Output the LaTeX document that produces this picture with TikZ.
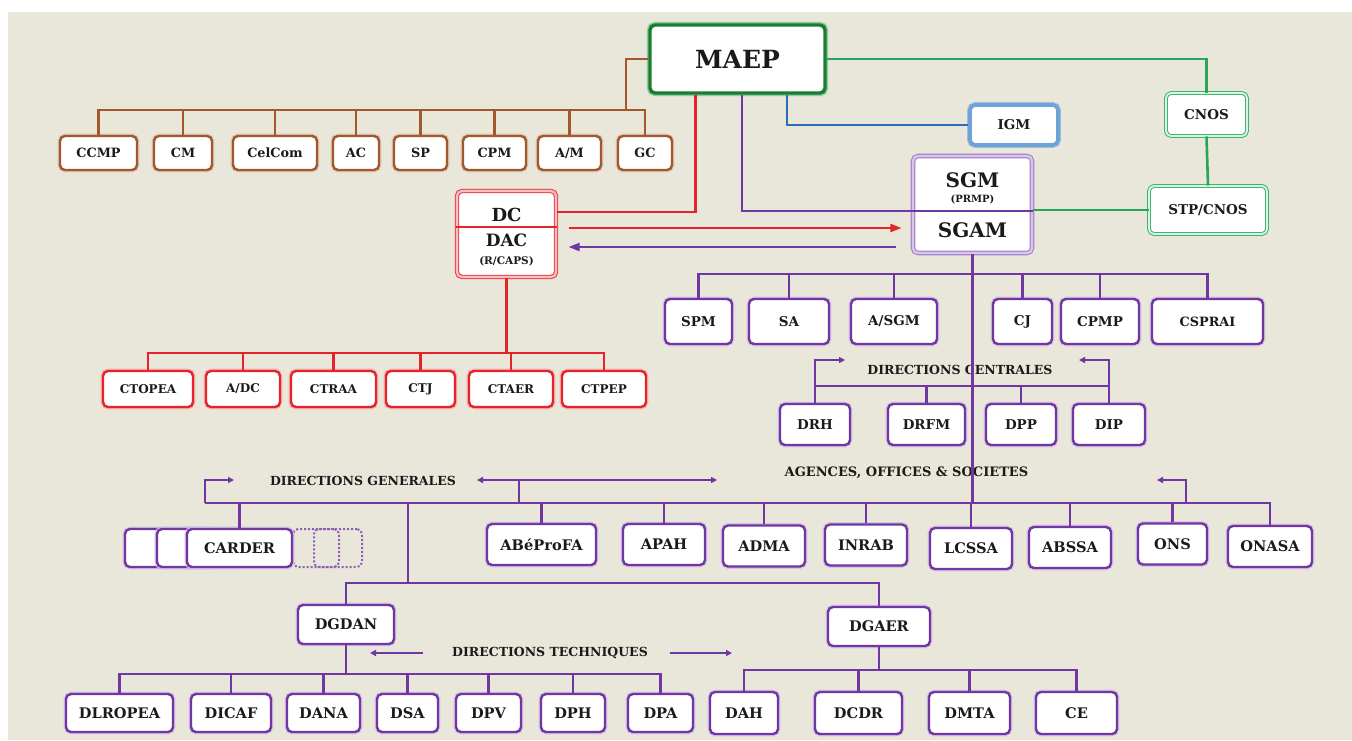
\documentclass[tikz,border=0pt]{standalone}
\usepackage{fontspec}
\setmainfont{DejaVu Serif}
\usepackage{xcolor}
\definecolor{Paper}{HTML}{E9E6DA}
\definecolor{Ink}{HTML}{1A1A1A}
\definecolor{Rust}{HTML}{A2582A}
\definecolor{Scarlet}{HTML}{E52429}
\definecolor{Leaf}{HTML}{27A65A}
\definecolor{Forest}{HTML}{1E7B2E}
\definecolor{Mint}{HTML}{3DB56C}
\definecolor{Azure}{HTML}{2B6DB8}
\definecolor{Steel}{HTML}{6EA3D8}
\definecolor{Violet}{HTML}{7036A4}
\definecolor{Lilac}{HTML}{A582CF}
\usetikzlibrary{arrows.meta}
\tikzset{
  unit/.style={fill=white,rounded corners=5pt,inner sep=0pt,text=Ink,
    font=\bfseries\fontsize{13.5}{15}\selectfont},
  big/.style={font=\bfseries\fontsize{14.6}{16}\selectfont},
  rustbox/.style={unit,draw=Rust,line width=2.4pt,preaction={draw=Rust!35,line width=4.6pt},
    font=\bfseries\fontsize{12.8}{15}\selectfont},
  redbox/.style={unit,draw=Scarlet,line width=2.4pt,preaction={draw=Scarlet!35,line width=4.6pt},
    font=\bfseries\fontsize{12}{14}\selectfont},
  violetbox/.style={unit,draw=Violet,line width=2.4pt,preaction={draw=Violet!30,line width=4.6pt}},
  ghostbox/.style={rounded corners=5pt,draw=Violet!80,line width=2pt,dotted,minimum height=38},
  maepbox/.style={unit,draw=Forest,line width=3.4pt,preaction={draw=Leaf!55,line width=6.4pt},
    font=\bfseries\fontsize{25}{28}\selectfont},
  igmbox/.style={unit,draw=Steel,line width=3.8pt,preaction={draw=Azure!45,line width=5.6pt}},
  cnosbox/.style={unit,draw=Mint,line width=1pt,double=Mint!18,double distance=1.8pt},
  sgmbox/.style={unit,draw=Lilac,line width=1.1pt,double=Lilac!45,double distance=2.4pt},
  dcbox/.style={unit,draw=Scarlet!85,line width=1.1pt,double=Scarlet!30,double distance=2.2pt},
  inner/.style={inner sep=0pt,text=Ink},
  heading/.style={inner sep=0pt,text=Ink,font=\bfseries\fontsize{12.5}{14}\selectfont},
  rustline/.style={draw=Rust,line width=2.6pt},
  redline/.style={draw=Scarlet,line width=2.6pt},
  greenline/.style={draw=Leaf,line width=2.6pt},
  blueline/.style={draw=Azure,line width=2.6pt},
  violetline/.style={draw=Violet,line width=2.6pt},
  hint/.style={draw=Violet,line width=1.5pt,-{Triangle[length=6pt,width=6pt]}},
  redarrow/.style={draw=Scarlet,line width=2.2pt,-{Triangle[length=11pt,width=8pt]}},
  violetarrow/.style={draw=Violet,line width=2.2pt,-{Triangle[length=11pt,width=8pt]}}
}
\begin{document}
\begin{tikzpicture}[x=1pt,y=-1pt,line join=miter]
  \useasboundingbox (0,0) rectangle (1352,740);
  \fill[Paper] (8,12) rectangle (1352,740);

  % cabinet
  \node[maepbox,minimum width=175,minimum height=68] (maep) at (737.5,59) {MAEP};
  \node[rustbox,minimum width=77,minimum height=34] (ccmp) at (98.5,153) {CCMP};
  \node[rustbox,minimum width=58,minimum height=34] (cm) at (183,153) {CM};
  \node[rustbox,minimum width=84,minimum height=34] (celcom) at (275,153) {CelCom};
  \node[rustbox,minimum width=46,minimum height=34] (ac) at (356,153) {AC};
  \node[rustbox,minimum width=53,minimum height=34] (sp) at (420.5,153) {SP};
  \node[rustbox,minimum width=63,minimum height=34] (cpm) at (494.5,153) {CPM};
  \node[rustbox,minimum width=63,minimum height=34] (am) at (569.5,153) {A/M};
  \node[rustbox,minimum width=54,minimum height=34] (gc) at (645,153) {GC};
  \coordinate (rustjoin) at (626,110);
  \draw[rustline] (maep.west) -| (rustjoin);
  \draw[rustline] (ccmp.north) -- (ccmp.north |- rustjoin) -- (gc.north |- rustjoin) -- (gc.north);
  \draw[rustline] (cm.north) -- (cm.north |- rustjoin) (celcom.north) -- (celcom.north |- rustjoin)
    (ac.north) -- (ac.north |- rustjoin) (sp.north) -- (sp.north |- rustjoin)
    (cpm.north) -- (cpm.north |- rustjoin) (am.north) -- (am.north |- rustjoin);

  % side bodies
  \node[igmbox,minimum width=88,minimum height=40] (igm) at (1014,125) {IGM};
  \node[cnosbox,minimum width=81,minimum height=43] (cnos) at (1206.5,114.5) {CNOS};
  \node[cnosbox,minimum width=118,minimum height=48] (stp) at (1208,210) {STP/CNOS};
  \node[sgmbox,minimum width=119,minimum height=97] (sgm) at (972.5,204.5) {};
  \node[inner,font=\bfseries\fontsize{20}{22}\selectfont] (sgmtxt) at (972.5,180) {SGM};
  \node[inner,font=\bfseries\fontsize{10}{12}\selectfont] (prmp) at (972.5,199) {(PRMP)};
  \node[inner,font=\bfseries\fontsize{20}{22}\selectfont] (sgamtxt) at (972.5,230) {SGAM};
  \node[dcbox,minimum width=99,minimum height=86] (dc) at (506.5,234) {};
  \node[inner,font=\bfseries\fontsize{18}{20}\selectfont] (dctxt) at (506.5,215) {DC};
  \node[inner,font=\bfseries\fontsize{17}{20}\selectfont] (dactxt) at (506.5,240) {DAC};
  \node[inner,font=\bfseries\fontsize{10.5}{12}\selectfont] (caps) at (506.5,261) {(R/CAPS)};
  \coordinate (sgmsplit) at (0,211);
  \coordinate (dcsplit) at (0,227);
  \draw[Scarlet,line width=2pt] (dc.west |- dcsplit) -- (dc.east |- dcsplit);

  \draw[greenline] (maep.east) -| (cnos.north);
  \draw[greenline] (cnos.south) -- (stp.north);
  \draw[greenline] (stp.west) -- (stp.west -| sgm.east);
  \draw[blueline] ([xshift=49.5pt]maep.south) |- (igm.west);
  \draw[violetline] ([xshift=4.5pt]maep.south) |- (sgm.west |- sgmsplit);
  \draw[Violet,line width=2pt] (sgm.west |- sgmsplit) -- (sgm.east |- sgmsplit);
  \draw[redline] ([xshift=-42pt]maep.south) |- ([yshift=22pt]dc.east);

  \coordinate (redtail) at ([yshift=6pt]dc.east);
  \coordinate (violettail) at ([yshift=-13pt]dc.east);
  \draw[redarrow,shorten <=12pt,shorten >=11pt] (redtail) -- (redtail -| sgm.west);
  \draw[violetarrow,shorten <=16pt,shorten >=12pt] (violettail -| sgm.west) -- (violettail);

  % conseillers techniques
  \node[redbox,minimum width=90,minimum height=36] (ctopea) at (148,389) {CTOPEA};
  \node[redbox,minimum width=74,minimum height=36] (adc) at (243,389) {A/DC};
  \node[redbox,minimum width=85,minimum height=36] (ctraa) at (333.5,389) {CTRAA};
  \node[redbox,minimum width=69,minimum height=36] (ctj) at (420.5,389) {CTJ};
  \node[redbox,minimum width=84,minimum height=36] (ctaer) at (511,389) {CTAER};
  \node[redbox,minimum width=84,minimum height=36] (ctpep) at (604,389) {CTPEP};
  \coordinate (redbus) at (0,353);
  \draw[redline] (dc.south) -- (dc.south |- redbus);
  \draw[redline] (ctopea.north) -- (ctopea.north |- redbus) -- (ctpep.north |- redbus) -- (ctpep.north);
  \draw[redline] (adc.north) -- (adc.north |- redbus) (ctraa.north) -- (ctraa.north |- redbus)
    (ctj.north) -- (ctj.north |- redbus) (ctaer.north) -- (ctaer.north |- redbus);

  % secretariat general
  \node[violetbox,minimum width=67,minimum height=45] (spm) at (698.5,321.5) {SPM};
  \node[violetbox,minimum width=80,minimum height=45] (sa) at (789,321.5) {SA};
  \node[violetbox,minimum width=86,minimum height=45] (asgm) at (894,321.5) {A/SGM};
  \node[violetbox,minimum width=59,minimum height=45] (cj) at (1022.5,321.5) {CJ};
  \node[violetbox,minimum width=78,minimum height=45] (cpmp) at (1100,321.5) {CPMP};
  \node[violetbox,minimum width=111,minimum height=45,font=\bfseries\fontsize{12.8}{15}\selectfont] (csprai) at (1207.5,321.5) {CSPRAI};
  \coordinate (sgmbus) at (0,274);
  \draw[violetline] (spm.north) -- (spm.north |- sgmbus) -- (csprai.north |- sgmbus) -- (csprai.north);
  \draw[violetline] (sa.north) -- (sa.north |- sgmbus) (asgm.north) -- (asgm.north |- sgmbus)
    (cj.north) -- (cj.north |- sgmbus) (cpmp.north) -- (cpmp.north |- sgmbus);

  % directions centrales
  \node[heading] (dctitle) at (960,370) {DIRECTIONS CENTRALES};
  \node[violetbox,minimum width=70,minimum height=41] (drh) at (815,424.5) {DRH};
  \node[violetbox,minimum width=77,minimum height=41] (drfm) at (926.5,424.5) {DRFM};
  \node[violetbox,minimum width=70,minimum height=41] (dpp) at (1021,424.5) {DPP};
  \node[violetbox,minimum width=72,minimum height=41] (dip) at (1109,424.5) {DIP};
  \coordinate (dcbus) at (0,386);
  \coordinate (dctag) at (0,360);
  \draw[violetline] (drh.north) -- (drh.north |- dcbus) -- (dip.north |- dcbus) -- (dip.north);
  \draw[violetline] (drfm.north) -- (drfm.north |- dcbus) (dpp.north) -- (dpp.north |- dcbus);
  \draw[hint] (drh.north |- dcbus) -- (drh.north |- dctag) -- ++(30,0);
  \draw[hint] (dip.north |- dcbus) -- (dip.north |- dctag) -- ++(-30,0);

  % directions generales, agences
  \node[heading] (dgtitle) at (363,481) {DIRECTIONS GENERALES};
  \node[heading,font=\bfseries\fontsize{13}{14}\selectfont] (agtitle) at (906.5,473) {AGENCES, OFFICES \& SOCIETES};
  \node[violetbox,minimum width=88,minimum height=38] (cardera) at (169,548) {};
  \node[violetbox,minimum width=88,minimum height=38] (carderb) at (201,548) {};
  \node[ghostbox,minimum width=46] (carderc) at (316,548) {};
  \node[ghostbox,minimum width=48] (carderd) at (338,548) {};
  \node[violetbox,big,minimum width=105,minimum height=38] (carder) at (239.5,548) {CARDER};
  \node[violetbox,big,minimum width=109,minimum height=41] (abeprofa) at (541.5,544.5) {ABéProFA};
  \node[violetbox,big,minimum width=82,minimum height=41] (apah) at (664,544.5) {APAH};
  \node[violetbox,big,minimum width=82,minimum height=41] (adma) at (764,546) {ADMA};
  \node[violetbox,big,minimum width=82,minimum height=41] (inrab) at (866,545) {INRAB};
  \node[violetbox,big,minimum width=82,minimum height=41] (lcssa) at (971,548.5) {LCSSA};
  \node[violetbox,big,minimum width=82,minimum height=41] (abssa) at (1070,547.5) {ABSSA};
  \node[violetbox,big,minimum width=69,minimum height=41] (ons) at (1172.5,544) {ONS};
  \node[violetbox,big,minimum width=84,minimum height=41] (onasa) at (1270,546.5) {ONASA};
  \coordinate (agbus) at (0,503);
  \coordinate (agtag) at (0,480);
  \coordinate (dgleft) at (205,503);
  \coordinate (agmid) at (519,503);
  \coordinate (agright) at (1186,503);
  \coordinate (dgroot) at (408,503);
  \draw[violetline] (sgm.south) -- (sgm.south |- agbus);
  \draw[violetline] (dgleft) -- (onasa.north |- agbus) -- (onasa.north);
  \draw[violetline] (carder.north) -- (carder.north |- agbus)
    (abeprofa.north) -- (abeprofa.north |- agbus) (apah.north) -- (apah.north |- agbus)
    (adma.north) -- (adma.north |- agbus) (inrab.north) -- (inrab.north |- agbus)
    (lcssa.north) -- (lcssa.north |- agbus) (abssa.north) -- (abssa.north |- agbus)
    (ons.north) -- (ons.north |- agbus);
  \draw[hint] (dgleft) -- (dgleft |- agtag) -- ++(29,0);
  \draw[hint] (agright) -- (agright |- agtag) -- ++(-29,0);
  \draw[hint] (agmid) -- (agmid |- agtag) -- ++(198,0);
  \draw[hint] (agmid |- agtag) -- ++(-42,0);

  % directions techniques
  \node[violetbox,big,minimum width=96,minimum height=39] (dgdan) at (346,624.5) {DGDAN};
  \node[violetbox,big,minimum width=102,minimum height=39] (dgaer) at (879,626.5) {DGAER};
  \node[heading] (dttitle) at (550,653) {DIRECTIONS TECHNIQUES};
  \coordinate (dgbus) at (0,583);
  \draw[violetline] (dgroot) -- (dgroot |- dgbus);
  \draw[violetline] (dgdan.north) -- (dgdan.north |- dgbus) -- (dgaer.north |- dgbus) -- (dgaer.north);
  \draw[hint] ([xshift=-29pt]dttitle.west) -- ++(-53,0);
  \draw[hint] ([xshift=22pt]dttitle.east) -- ++(62,0);

  \node[violetbox,big,minimum width=107,minimum height=38] (dlropea) at (119.5,713) {DLROPEA};
  \node[violetbox,big,minimum width=80,minimum height=38] (dicaf) at (231,713) {DICAF};
  \node[violetbox,big,minimum width=73,minimum height=38] (dana) at (323.5,713) {DANA};
  \node[violetbox,big,minimum width=61,minimum height=38] (dsa) at (407.5,713) {DSA};
  \node[violetbox,big,minimum width=65,minimum height=38] (dpv) at (488.5,713) {DPV};
  \node[violetbox,big,minimum width=64,minimum height=38] (dph) at (573,713) {DPH};
  \node[violetbox,big,minimum width=65,minimum height=38] (dpa) at (660.5,713) {DPA};
  \node[violetbox,big,minimum width=68,minimum height=42] (dah) at (744,713) {DAH};
  \node[violetbox,big,minimum width=87,minimum height=42] (dcdr) at (858.5,713) {DCDR};
  \node[violetbox,big,minimum width=81,minimum height=42] (dmta) at (969.5,713) {DMTA};
  \node[violetbox,big,minimum width=81,minimum height=42] (ce) at (1076.5,713) {CE};
  \coordinate (dnbus) at (0,674);
  \coordinate (debus) at (0,670);
  \draw[violetline] (dgdan.south) -- (dgdan.south |- dnbus);
  \draw[violetline] (dlropea.north) -- (dlropea.north |- dnbus) -- (dpa.north |- dnbus) -- (dpa.north);
  \draw[violetline] (dicaf.north) -- (dicaf.north |- dnbus) (dana.north) -- (dana.north |- dnbus)
    (dsa.north) -- (dsa.north |- dnbus) (dpv.north) -- (dpv.north |- dnbus)
    (dph.north) -- (dph.north |- dnbus);
  \draw[violetline] (dgaer.south) -- (dgaer.south |- debus);
  \draw[violetline] (dah.north) -- (dah.north |- debus) -- (ce.north |- debus) -- (ce.north);
  \draw[violetline] (dcdr.north) -- (dcdr.north |- debus) (dmta.north) -- (dmta.north |- debus);
\end{tikzpicture}
\end{document}
